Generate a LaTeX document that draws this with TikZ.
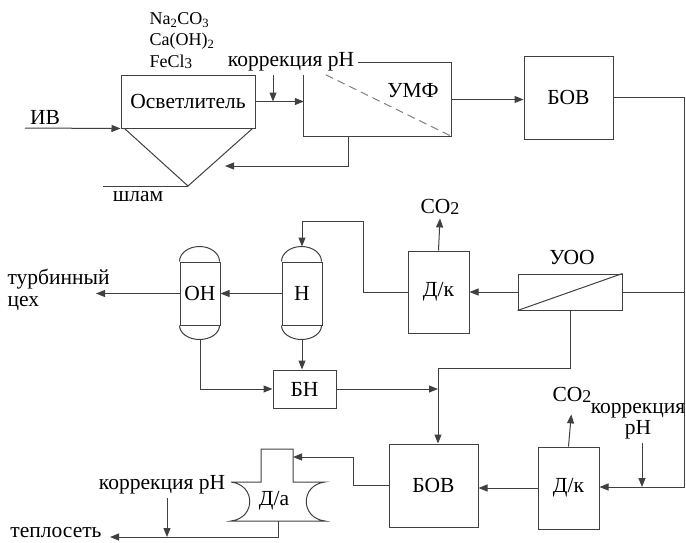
\documentclass[tikz,border=0pt]{standalone}
\usepackage{fontspec}
\setmainfont{Liberation Serif}
\usetikzlibrary{arrows.meta, positioning, calc}

\newcommand{\cotwo}{CO\raisebox{-1.5pt}{\fontsize{18}{18}\selectfont 2}}

\begin{document}
\begin{tikzpicture}[x=1pt, y=-1pt, >={Triangle[length=9pt, width=7pt]},
	every node/.style={font=\fontsize{21.5}{21.5}\selectfont},
	line/.style={draw=black!75, line width=1pt},
	blk/.style={line, rectangle, inner sep=0pt},
	arr/.style={line, ->},
	vessel/.style={line, rectangle, minimum width=40pt, minimum height=63pt, inner sep=0pt}]
	\useasboundingbox (0,0) rectangle (686,542);
	
	% Clarifier
	\node[blk, minimum width=134pt, minimum height=53pt] (osv) at (188,101.5) {Осветлитель};
	\node[align=left, anchor=north west, font=\fontsize{18}{21.5}\selectfont] (reag) at (146,9) {Na\textsubscript{2}CO\textsubscript{3}\\Ca(OH)\textsubscript{2}\\FeCl\raisebox{-1pt}{\fontsize{15}{15}\selectfont 3}};
	\node (iv) at (45,117) {ИВ};
	\coordinate (ivin) at (25,128);
	\draw[arr] (ivin) -- (osv.south west);
	
	% Sludge cone
	\coordinate (apex) at (188,186);
	\draw[line] ($(osv.south west)+(4,0)$) -- (apex) -- ($(osv.south east)+(-3,0)$);
	\draw[line] (103,186) -- (apex);
	\node (shlam) at (138,197) {шлам};
	
	% Ultrafiltration
	\node[minimum width=147pt, minimum height=73pt, inner sep=0pt] (umf) at (377.5,99.5) {};
	\node (umfname) at (413,91) {УМФ};
	\draw[line] ($(umf.north west)+(0,12)$) -- (umf.south west) -- (umf.south east) -- (umf.north east) -- ($(umf.north west)+(54,0)$);
	\draw[line, black!50, dash pattern=on 8pt off 5pt] ($(umf.north west)+(22,12)$) -- (umf.south east);
	\node (kor1) at (291,62) {коррекция pH};
	\coordinate (kor1arr) at ($(kor1.south)+(-18,0)$);
	\draw[arr] (kor1arr) -- (kor1arr |- osv.east);
	\draw[arr] (osv.east) -- (osv.east -| umf.west);
	\coordinate (ret) at (225,166);
	\draw[arr] ($(umf.south west)+(45,0)$) |- (ret);
	
	% Storage tank
	\node[blk, minimum width=89pt, minimum height=83pt] (bov1) at (568.5,97.5) {БОВ};
	\draw[arr] (umf.east) -- (umf.east -| bov1.west);
	\coordinate (rc) at (684,487);
	
	% Reverse osmosis and decarbonizer
	\node[blk, minimum width=104pt, minimum height=36pt] (uoo) at (570,292) {};
	\draw[line] (uoo.south west) -- (uoo.north east);
	\node (uooname) at (572,257) {УОО};
	\node[blk, minimum width=61pt, minimum height=82pt] (dk1) at (438.5,292) {Д/к};
	\node (co2a) at (440,207) {\cotwo};
	\draw[line] (uoo.east) -- (uoo.east -| rc);
	\draw[arr] (uoo.west) -- (dk1.east);
	\draw[arr] (dk1.north) -- (co2a.south);
	
	% Ion exchange filters
	\node[vessel] (h) at (302,293.5) {Н};
	\node[vessel] (oh) at (200,293.5) {ОН};
	\foreach \v in {h,oh} {
		\draw[line] (\v.north west) arc[start angle=180, end angle=0, x radius=20pt, y radius=15pt];
		\draw[line] (\v.south west) arc[start angle=180, end angle=360, x radius=20pt, y radius=14pt];
	}
	\coordinate (htop) at ($(h.north)+(0,-15)$);
	\coordinate (hbot) at ($(h.south)+(0,14)$);
	\coordinate (ohbot) at ($(oh.south)+(0,14)$);
	\draw[arr] (dk1.west) -- ++(-44,0) -- ++(0,-71) -| (htop);
	\draw[arr] (h.west) -- (oh.east);
	\node[align=left, anchor=west] (turb) at (4,290) {турбинный\\цех};
	\coordinate (turbout) at (96,293.5);
	\draw[arr] (oh.west) -- (turbout);
	
	% Neutralization tank
	\node[blk, minimum width=63pt, minimum height=38pt] (bn) at (304.5,389) {БН};
	\draw[arr] (ohbot) |- (bn.west);
	\draw[arr] (hbot) -- (hbot |- bn.north);
	
	% Bottom row
	\node[blk, minimum width=89pt, minimum height=83pt] (bov2) at (433.5,485.5) {БОВ};
	\node[blk, minimum width=61pt, minimum height=82pt] (dk2) at (568.5,488) {Д/к};
	\coordinate (mix) at (438,368);
	\draw[arr] (uoo.south) |- (mix) -- (mix |- bov2.north);
	\draw[arr] (bn.east) -- (bn.east -| mix);
	\draw[arr] (bov1.east) -| (rc) -- (rc -| dk2.east);
	\node (co2b) at (572,395) {\cotwo};
	\draw[arr, shorten >=8pt] (dk2.north) -- (co2b.south);
	\node[align=center] (kor3) at (638,421) {коррекция\\pH};
	\coordinate (kor3arr) at ($(kor3.south)+(4,0)$);
	\draw[arr] (kor3arr) -- (kor3arr |- rc);
	\draw[arr] (dk2.west) -- (dk2.west -| bov2.east);
	
	% Deaerator
	\node (da) at (274,501) {Д/а};
	\draw[line] (231,482) -- (261,482) -- (261,449) -- (293,449) -- (293,482) -- (325,482)
		.. controls (300,485) and (300,518) .. (325,521) -- (231,521)
		.. controls (256,518) and (256,485) .. (231,482);
	\coordinate (dain) at (293,457);
	\coordinate (daout) at (278,521);
	\draw[arr] (bov2.west) -- ++(-35,0) |- (dain);
	\node[inner sep=1pt] (teplo) at (56,533) {теплосеть};
	\coordinate (teploin) at (110,537);
	\draw[arr] (daout) |- (teploin);
	\node (kor4) at (162,485) {коррекция pH};
	\coordinate (kor4arr) at ($(kor4.south)+(5,0)$);
	\draw[arr] (kor4arr) -- (kor4arr |- teploin);
	
\end{tikzpicture}
\end{document}
